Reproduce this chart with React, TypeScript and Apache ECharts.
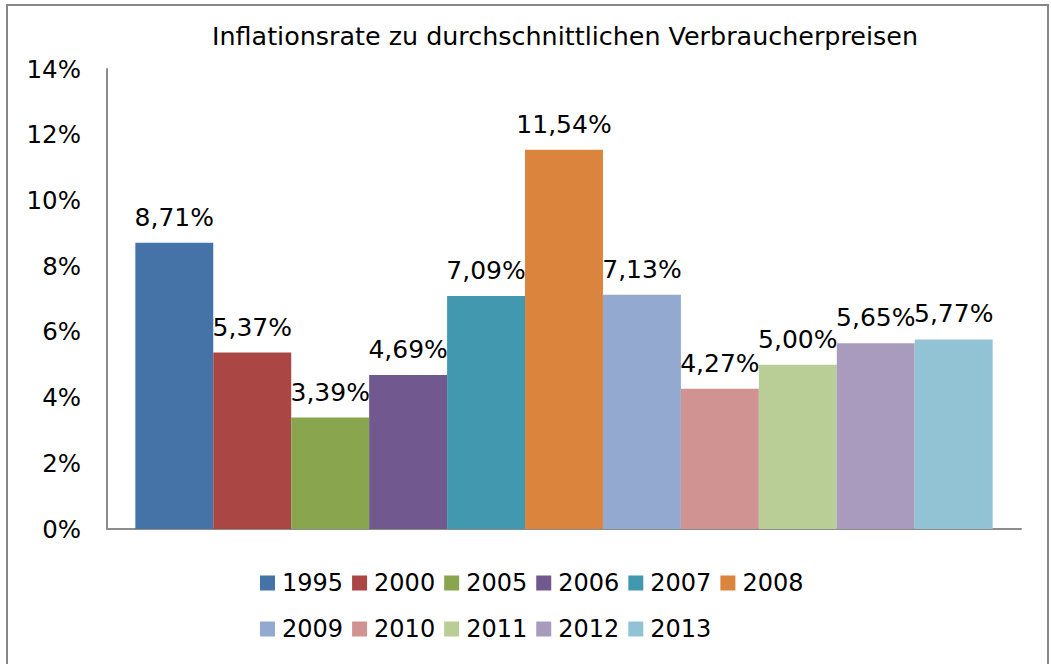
import React, { useEffect, useRef } from "react";
import * as echarts from "echarts";

const years = ["1995", "2000", "2005", "2006", "2007", "2008", "2009", "2010", "2011", "2012", "2013"];
const rates = [8.71, 5.37, 3.39, 4.69, 7.09, 11.54, 7.13, 4.27, 5.0, 5.65, 5.77];
const colors = [
  "#4572A7", "#AA4643", "#89A54E", "#71588F", "#4198AF", "#DB843D",
  "#93A9CF", "#D19392", "#B9CD96", "#A99BBD", "#91C3D5",
];
const yTicks = { min: 0, max: 14, interval: 2 };
const titleText = "Inflationsrate zu durchschnittlichen Verbraucherpreisen";

const FONT = "DejaVu Sans";

export default function App() {
  const ref = useRef<HTMLDivElement>(null);
  useEffect(() => {
    if (!ref.current) return;
    const chart = echarts.init(ref.current, undefined, { renderer: "svg" });
    const legendText = {
      fontFamily: FONT,
      fontSize: 24,
      lineHeight: 24,
      color: "#000",
      padding: [0, 0, 0, 2],
    };
    chart.setOption({
      animation: false,
      backgroundColor: "#fff",
      graphic: [
        {
          type: "rect",
          shape: { x: 7, y: 5, width: 1041, height: 680 },
          style: { fill: "none", stroke: "#868686", lineWidth: 2 },
          silent: true,
        },
        {
          type: "text",
          x: 565,
          y: 36,
          style: {
            text: titleText,
            fontFamily: FONT,
            fontSize: 25.4,
            fill: "#000",
            textAlign: "center",
            textVerticalAlign: "middle",
          },
        },
      ],
      grid: { left: 107, right: 30, top: 69, bottom: 135, containLabel: false },
      legend: [
        {
          data: years.slice(0, 6),
          left: 260,
          top: 571,
          padding: 0,
          itemWidth: 15,
          itemHeight: 15,
          itemGap: 9,
          icon: "rect",
          textStyle: legendText,
        },
        {
          data: years.slice(6),
          left: 260,
          top: 617,
          padding: 0,
          itemWidth: 15,
          itemHeight: 15,
          itemGap: 9,
          icon: "rect",
          textStyle: legendText,
        },
      ],
      xAxis: {
        type: "category",
        data: [""],
        axisLine: { show: true, lineStyle: { color: "#8c8c8c", width: 2 } },
        axisTick: { show: false },
        axisLabel: { show: false },
        splitLine: { show: false },
      },
      yAxis: {
        type: "value",
        min: yTicks.min,
        max: yTicks.max,
        interval: yTicks.interval,
        axisLine: { show: true, lineStyle: { color: "#8c8c8c", width: 2 } },
        axisTick: { show: false },
        splitLine: { show: false },
        axisLabel: {
          formatter: "{value}%",
          fontFamily: FONT,
          fontSize: 24.5,
          color: "#000",
          margin: 26,
          padding: [6, 0, 0, 0],
        },
      },
      series: years.map((y, i) => ({
        name: y,
        type: "bar",
        data: [rates[i]],
        barGap: "0%",
        barCategoryGap: "6.2%",
        itemStyle: { color: colors[i] },
        label: {
          show: true,
          position: "top",
          distance: 13,
          fontFamily: FONT,
          fontSize: 25,
          lineHeight: 25,
          color: "#000",
          formatter: (p: any) => p.value.toFixed(2).replace(".", ",") + "%",
        },
      })),
    });
    return () => chart.dispose();
  }, []);
  return (
    <div
      ref={ref}
      style={{ position: "fixed", left: 0, top: 0, width: 1051, height: 664 }}
    />
  );
}
